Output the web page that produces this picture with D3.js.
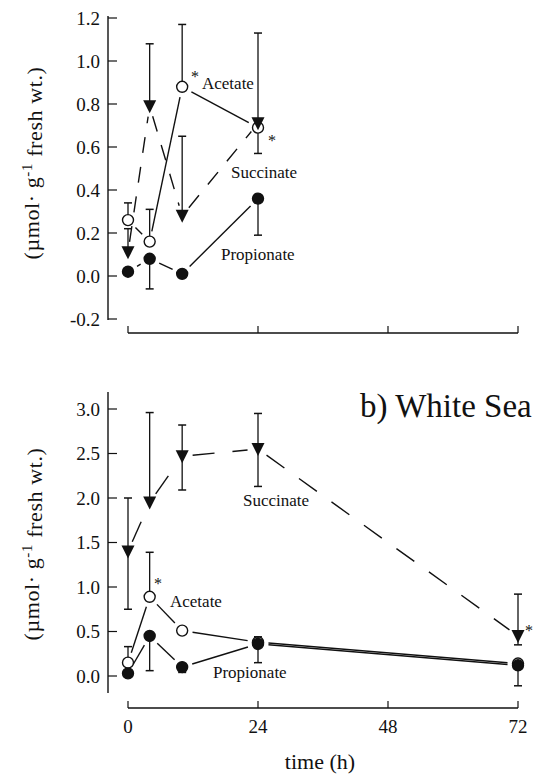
<!DOCTYPE html>
<html>
<head>
<meta charset="utf-8">
<script src="https://cdn.jsdelivr.net/npm/d3@7"></script>
<style>
  body { margin:0; background:#fff; }
  svg { display:block; }
  text { font-family:"Liberation Serif","Times New Roman",serif; fill:#111; }
</style>
</head>
<body>
<div id="chart"></div>
<script>
/* time points (h) */
var timesTop = [0, 4, 10, 24],
    timesBottom = [0, 4, 10, 24, 72];

/* top panel values */
var acetateTop = [0.26, 0.16, 0.88, 0.69],
    acetateTopUp = [0.08, 0.15, 0.29, 0],
    acetateTopDown = [0, 0, 0, 0.12];
var succinateTop = [0.11, 0.79, 0.28, 0.71],
    succinateTopUp = [0.11, 0.29, 0.37, 0.42],
    succinateTopDown = [0, 0, 0, 0];
var propionateTop = [0.02, 0.08, 0.01, 0.36],
    propionateTopUp = [0, 0, 0, 0],
    propionateTopDown = [0, 0.14, 0, 0.17];

/* bottom panel (b) White Sea) values */
var acetateBottom = [0.15, 0.89, 0.51, 0.38, 0.14],
    acetateBottomUp = [0.18, 0.50, 0, 0, 0],
    acetateBottomDown = [0, 0, 0, 0, 0];
var succinateBottom = [1.40, 1.95, 2.47, 2.55, 0.45],
    succinateBottomUp = [0.60, 1.01, 0.35, 0.40, 0.47],
    succinateBottomDown = [0.65, 0, 0.38, 0.42, 0.10];
var propionateBottom = [0.03, 0.45, 0.10, 0.36, 0.12],
    propionateBottomUp = [0, 0, 0, 0.08, 0],
    propionateBottomDown = [0, 0.39, 0.06, 0.21, 0.23];

var xTicks = [0, 24, 48, 72],
    yTicksTop = [-0.2, 0.0, 0.2, 0.4, 0.6, 0.8, 1.0, 1.2],
    yTicksBottom = [0.0, 0.5, 1.0, 1.5, 2.0, 2.5, 3.0];

var width = 540, height = 774;
var svg = d3.select('#chart').append('svg')
    .attr('width', width)
    .attr('height', height);

var x = d3.scaleLinear().domain([0, 72]).range([128, 518]);
var yTop = d3.scaleLinear().domain([-0.2, 1.2]).range([319, 18]);
var yBottom = d3.scaleLinear().domain([-0.2, 3.2]).range([693.8, 391.2]);

var R = 5.5, GAP = 5;

// tick labels use a plain hyphen for negatives
function fmt1(v){ return d3.format('.1f')(v).replace('\u2212', '-'); }

function drawPanel(y, axisY, yTop0, yBot0, yTicks, times, series, showXLabels){
    var g = svg.append('g');

    // y axis line + inward ticks
    g.append('line')
        .attr('x1', 108).attr('x2', 108)
        .attr('y1', yTop0).attr('y2', yBot0)
        .style('stroke', '#111').style('stroke-width', 1.4);
    yTicks.forEach(function(t){
        g.append('line')
            .attr('x1', 108).attr('x2', 117)
            .attr('y1', y(t)).attr('y2', y(t))
            .style('stroke', '#111').style('stroke-width', 1.2);
        g.append('text')
            .attr('x', 100).attr('y', y(t))
            .attr('dy', '0.35em')
            .attr('text-anchor', 'end')
            .style('font-size', '19px')
            .text(fmt1(t));
    });

    // x axis
    g.append('line')
        .attr('x1', x(0)).attr('x2', x(72))
        .attr('y1', axisY).attr('y2', axisY)
        .style('stroke', '#111').style('stroke-width', 1.3);
    xTicks.forEach(function(t){
        g.append('line')
            .attr('x1', x(t)).attr('x2', x(t))
            .attr('y1', axisY).attr('y2', axisY - 7)
            .style('stroke', '#111').style('stroke-width', 1.2);
        if(showXLabels){
            g.append('text')
                .attr('x', x(t)).attr('y', axisY + 25)
                .attr('text-anchor', 'middle')
                .style('font-size', '19px')
                .text(t);
        }
    });

    series.forEach(function(s){
        var pts = times.map(function(t, i){
            return {x: x(t), y: y(s.values[i]), v: s.values[i], up: s.up[i], down: s.down[i]};
        });

        // connecting segments, stopped short of the markers
        for(var i = 0; i < pts.length - 1; i++){
            var a = pts[i], b = pts[i+1];
            var dx = b.x - a.x, dy = b.y - a.y, L = Math.sqrt(dx*dx + dy*dy);
            var off = R + GAP;
            if(L <= 2*off) continue;
            var ux = dx / L, uy = dy / L;
            g.append('line')
                .attr('x1', a.x + ux*off).attr('y1', a.y + uy*off)
                .attr('x2', b.x - ux*off).attr('y2', b.y - uy*off)
                .style('stroke', '#111')
                .style('stroke-width', 1.4)
                .style('stroke-dasharray', s.dash || null);
        }

        // error bars
        pts.forEach(function(p){
            [[p.up, 1], [p.down, -1]].forEach(function(e){
                if(!e[0]) return;
                var yy = y(p.v + e[1]*e[0]);
                g.append('line')
                    .attr('x1', p.x).attr('x2', p.x)
                    .attr('y1', p.y).attr('y2', yy)
                    .style('stroke', '#111').style('stroke-width', 1.3);
                g.append('line')
                    .attr('x1', p.x - 4).attr('x2', p.x + 4)
                    .attr('y1', yy).attr('y2', yy)
                    .style('stroke', '#111').style('stroke-width', 1.5);
            });
        });

        // markers
        pts.forEach(function(p){
            if(s.marker === 'tri'){
                g.append('path')
                    .attr('d', 'M' + (p.x-6.5) + ',' + (p.y-6) + 'L' + (p.x+6.5) + ',' + (p.y-6) + 'L' + p.x + ',' + (p.y+7) + 'Z')
                    .style('fill', '#111');
            } else {
                g.append('circle')
                    .attr('cx', p.x).attr('cy', p.y).attr('r', R)
                    .style('fill', s.marker === 'open' ? '#fff' : '#111')
                    .style('stroke', '#111').style('stroke-width', 1.4);
            }
        });
    });
    return g;
}

var topPanel = drawPanel(yTop, 333, 16, 320, yTicksTop, timesTop, [
    {values: propionateTop, up: propionateTopUp, down: propionateTopDown, marker: 'filled'},
    {values: acetateTop, up: acetateTopUp, down: acetateTopDown, marker: 'open'},
    {values: succinateTop, up: succinateTopUp, down: succinateTopDown, marker: 'tri', dash: '16,14'}
], false);

var bottomPanel = drawPanel(yBottom, 708, 392, 693, yTicksBottom, timesBottom, [
    {values: succinateBottom, up: succinateBottomUp, down: succinateBottomDown, marker: 'tri', dash: '22,18'},
    {values: acetateBottom, up: acetateBottomUp, down: acetateBottomDown, marker: 'open'},
    {values: propionateBottom, up: propionateBottomUp, down: propionateBottomDown, marker: 'filled'}
], true);

// series labels
function label(g, txt, xx, yy, size){
    g.append('text').attr('x', xx).attr('y', yy)
        .style('font-size', (size || 17) + 'px')
        .style('fill', '#111')
        .text(txt);
}
label(topPanel, 'Acetate', 202, 89);
label(topPanel, 'Succinate', 231, 178);
label(topPanel, 'Propionate', 221, 260);
label(topPanel, '*', 191, 82, 16);
label(topPanel, '*', 268, 146, 16);

label(bottomPanel, 'Succinate', 243, 506);
label(bottomPanel, 'Acetate', 170, 607);
label(bottomPanel, 'Propionate', 213, 678);
label(bottomPanel, '*', 154, 589, 16);
label(bottomPanel, '*', 525, 636, 16);
label(bottomPanel, 'b) White Sea', 360, 417, 33);

// y axis titles
function yTitle(cy){
    var t = svg.append('text')
        .attr('transform', 'translate(31,' + cy + ') rotate(-90)')
        .attr('text-anchor', 'middle')
        .attr('dy', '0.35em')
        .style('font-size', '22px')
        .style('letter-spacing', '0.6px');
    t.append('tspan').text('(\u00b5mol\u00b7 g');
    t.append('tspan').attr('dy', '-0.45em').style('font-size', '15px').text('-1');
    t.append('tspan').attr('dy', '0.45em').text(' fresh wt.)');
}
yTitle(163);
yTitle(544);

svg.append('text')
    .attr('x', 320).attr('y', 769)
    .attr('text-anchor', 'middle')
    .style('font-size', '22px')
    .text('time (h)');
</script>
</body>
</html>
